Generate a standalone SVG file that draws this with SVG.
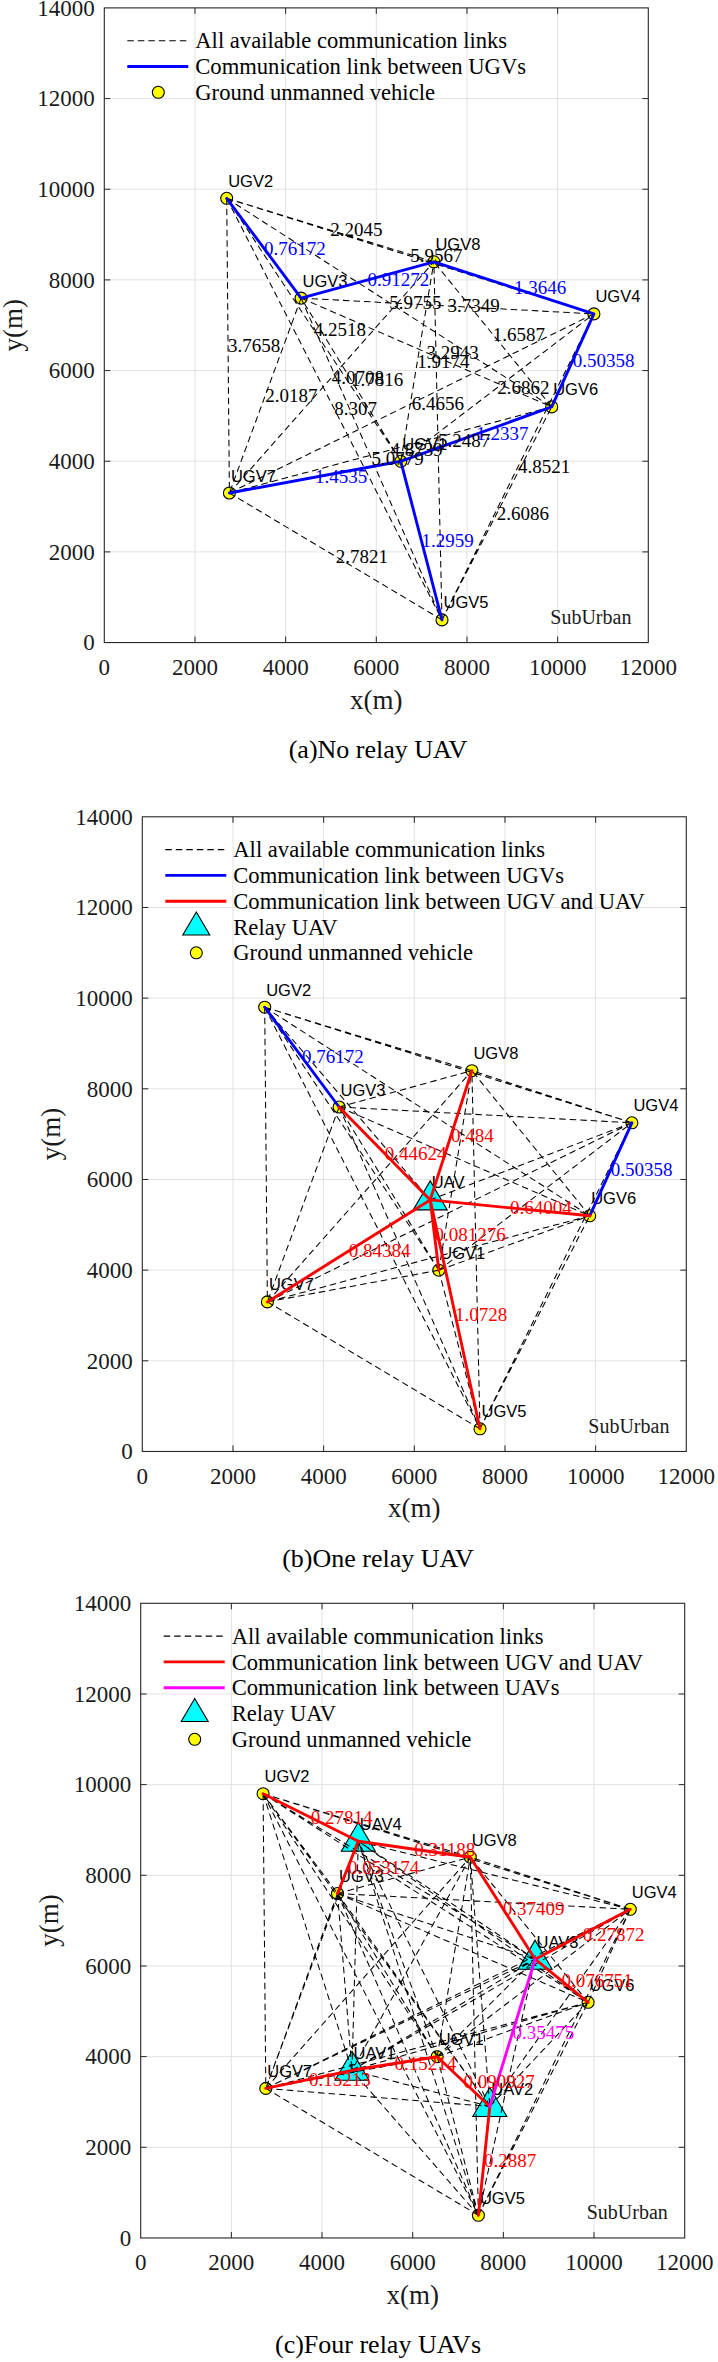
<svg xmlns="http://www.w3.org/2000/svg" xmlns:xlink="http://www.w3.org/1999/xlink" width="718" height="2362" viewBox="0 0 718 2362">
<style>
.bg{fill:#fff}
.frame{fill:none;stroke:#262626;stroke-width:1.1}
.grid{fill:none;stroke:#e2e2e2;stroke-width:1}
.tick{fill:none;stroke:#262626;stroke-width:1}
.dash{fill:none;stroke:#000;stroke-width:1.05;stroke-dasharray:6.5 4}
.blue{fill:none;stroke:#0000ff;stroke-width:2.9;stroke-linejoin:round;stroke-linecap:round}
.red{fill:none;stroke:#ff0000;stroke-width:2.9;stroke-linejoin:round;stroke-linecap:round}
.mag{fill:none;stroke:#ff00ff;stroke-width:2.9;stroke-linecap:round}
.ugv{fill:#ffff00;stroke:#000;stroke-width:1.1}
.uav{fill:#00ffff;stroke:#000;stroke-width:1.1}
text{font-family:"Liberation Serif","Times New Roman",serif;fill:#1a1a1a}
.tky{font-size:23px;text-anchor:end}
.tkx{font-size:23px;text-anchor:middle}
.axl{font-size:27px;text-anchor:middle}
.ttl{font-size:26px;text-anchor:middle;fill:#000}
.leg{font-size:22.6px;fill:#000}
.sub{font-size:20px}
.nl{font-family:"Liberation Sans",Arial,sans-serif;font-size:16.5px;fill:#000}
.num{font-size:19px;fill:#000}
.nb{font-size:19px;fill:#0000ff}
.nr{font-size:19px;fill:#ff0000}
.nm{font-size:19px;fill:#ff00ff}
</style>
<defs>
<path id="tri" d="M0,-19L17,10L-17,10Z"/>
<path id="tril" d="M0,-15L13.5,8L-13.5,8Z"/>
<g id="axes">
<path class="grid" d="M90.67,0V634.67M181.33,0V634.67M272,0V634.67M362.67,0V634.67M453.33,0V634.67M0,90.67H544M0,181.33H544M0,272H544M0,362.67H544M0,453.33H544M0,544H544"/>
<path class="tick" d="M90.67,634.67v-6M181.33,634.67v-6M272,634.67v-6M362.67,634.67v-6M453.33,634.67v-6M90.67,0v6M181.33,0v6M272,0v6M362.67,0v6M453.33,0v6M0,90.67h6M0,181.33h6M0,272h6M0,362.67h6M0,453.33h6M0,544h6M544,90.67h-6M544,181.33h-6M544,272h-6M544,362.67h-6M544,453.33h-6M544,544h-6"/>
<rect class="frame" x="0" y="0" width="544" height="634.67"/>
<text class="tky" x="-9.5" y="7.8">14000</text>
<text class="tky" x="-9.5" y="98.5">12000</text>
<text class="tky" x="-9.5" y="189.1">10000</text>
<text class="tky" x="-9.5" y="279.8">8000</text>
<text class="tky" x="-9.5" y="370.5">6000</text>
<text class="tky" x="-9.5" y="461.1">4000</text>
<text class="tky" x="-9.5" y="551.8">2000</text>
<text class="tky" x="-9.5" y="642.5">0</text>
<text class="tkx" x="0" y="666.9">0</text>
<text class="tkx" x="90.67" y="666.9">2000</text>
<text class="tkx" x="181.33" y="666.9">4000</text>
<text class="tkx" x="272" y="666.9">6000</text>
<text class="tkx" x="362.67" y="666.9">8000</text>
<text class="tkx" x="453.33" y="666.9">10000</text>
<text class="tkx" x="544" y="666.9">12000</text>
<text class="axl" x="272" y="700.7">x(m)</text>
<text class="axl" transform="translate(-82.6,317.3) rotate(-90)">y(m)</text>
<text class="sub" x="446" y="616.2">SubUrban</text>
</g>
</defs>
<rect class="bg" x="0" y="0" width="718" height="2362"/>

<!-- ================= Panel (a) ================= -->
<g id="panel-a">
<use xlink:href="#axes" href="#axes" x="104.3" y="7.9"/>
<g id="a-legend">
<line class="dash" x1="127.3" y1="40.7" x2="188.3" y2="40.7"/>
<text class="leg" x="195.3" y="48.3">All available communication links</text>
<line class="blue" x1="127.3" y1="66.5" x2="188.3" y2="66.5" style="stroke-linecap:butt"/>
<text class="leg" x="195.3" y="74.1">Communication link between UGVs</text>
<circle class="ugv" cx="158.3" cy="92.3" r="6"/>
<text class="leg" x="195.3" y="99.9">Ground unmanned vehicle</text>
</g>
<g id="a-UGV1"><circle class="ugv" cx="400.8" cy="461.3" r="6"/><text class="nl" x="402.3" y="449.8">UGV1</text></g>
<g id="a-UGV2"><circle class="ugv" cx="226.7" cy="198.3" r="6"/><text class="nl" x="228.2" y="186.8">UGV2</text></g>
<g id="a-UGV3"><circle class="ugv" cx="301.1" cy="298.1" r="6"/><text class="nl" x="302.6" y="286.6">UGV3</text></g>
<g id="a-UGV4"><circle class="ugv" cx="593.9" cy="313.9" r="6"/><text class="nl" x="595.4" y="302.4">UGV4</text></g>
<g id="a-UGV5"><circle class="ugv" cx="442" cy="619.9" r="6"/><text class="nl" x="443.5" y="608.4">UGV5</text></g>
<g id="a-UGV6"><circle class="ugv" cx="551.7" cy="406.9" r="6"/><text class="nl" x="553.2" y="395.4">UGV6</text></g>
<g id="a-UGV7"><circle class="ugv" cx="229.4" cy="493" r="6"/><text class="nl" x="230.9" y="481.5">UGV7</text></g>
<g id="a-UGV8"><circle class="ugv" cx="433.9" cy="261.8" r="6"/><text class="nl" x="435.4" y="250.3">UGV8</text></g>
<g id="a-connectors">
<path class="dash" d="M400.8,461.3L226.7,198.3M400.8,461.3L301.1,298.1M400.8,461.3L593.9,313.9M400.8,461.3L442,619.9M400.8,461.3L551.7,406.9M400.8,461.3L229.4,493M400.8,461.3L433.9,261.8M226.7,198.3L301.1,298.1M226.7,198.3L593.9,313.9M226.7,198.3L442,619.9M226.7,198.3L551.7,406.9M226.7,198.3L229.4,493M226.7,198.3L433.9,261.8M301.1,298.1L593.9,313.9M301.1,298.1L442,619.9M301.1,298.1L551.7,406.9M301.1,298.1L229.4,493M301.1,298.1L433.9,261.8M593.9,313.9L442,619.9M593.9,313.9L551.7,406.9M593.9,313.9L229.4,493M593.9,313.9L433.9,261.8M442,619.9L551.7,406.9M442,619.9L229.4,493M442,619.9L433.9,261.8M551.7,406.9L229.4,493M551.7,406.9L433.9,261.8M229.4,493L433.9,261.8"/>
<path class="blue" d="M226.7,198.3L301.1,298.1L433.9,261.8L593.9,313.9L551.7,406.9L400.8,461.3L229.4,493M400.8,461.3L442,619.9"/>
</g>
<g id="a-link-labels">
<text class="num" x="313.75" y="336.1">4.2518</text>
<text class="num" x="350.95" y="386">1.7816</text>
<text class="num" x="497.35" y="393.9">2.6862</text>
<text class="nb" x="421.4" y="546.9">1.2959</text>
<text class="nb" x="476.25" y="440.4">1.2337</text>
<text class="nb" x="315.1" y="483.45">1.4535</text>
<text class="num" x="417.35" y="367.85">1.9174</text>
<text class="nb" x="263.9" y="254.5">0.76172</text>
<text class="num" x="410.3" y="262.4">5.9567</text>
<text class="num" x="334.35" y="415.4">8.307</text>
<text class="num" x="389.2" y="308.9">5.9755</text>
<text class="num" x="228.05" y="351.95">3.7658</text>
<text class="num" x="330.3" y="236.35">2.2045</text>
<text class="num" x="447.5" y="312.3">3.7349</text>
<text class="num" x="371.55" y="465.3">5.0779</text>
<text class="num" x="426.4" y="358.8">3.2943</text>
<text class="num" x="265.25" y="401.85">2.0187</text>
<text class="nb" x="367.5" y="286.25">0.91272</text>
<text class="num" x="517.95" y="473.2">4.8521</text>
<text class="nb" x="572.8" y="366.7">0.50358</text>
<text class="num" x="411.65" y="409.75">6.4656</text>
<text class="nb" x="513.9" y="294.15">1.3646</text>
<text class="num" x="496.85" y="519.7">2.6086</text>
<text class="num" x="335.7" y="562.75">2.7821</text>
<text class="num" x="437.95" y="447.15">5.2487</text>
<text class="num" x="390.55" y="456.25">4.8739</text>
<text class="num" x="492.8" y="340.65">1.6587</text>
<text class="num" x="331.65" y="383.7">4.0708</text>
</g>
<text class="ttl" x="378" y="757.5">(a)No relay UAV</text>
</g>

<!-- ================= Panel (b) ================= -->
<g id="panel-b">
<use xlink:href="#axes" href="#axes" x="142.3" y="816.8"/>
<g id="b-legend">
<line class="dash" x1="165.3" y1="849.6" x2="226.3" y2="849.6"/>
<text class="leg" x="233.3" y="857.2">All available communication links</text>
<line class="blue" x1="165.3" y1="875.4" x2="226.3" y2="875.4" style="stroke-linecap:butt"/>
<text class="leg" x="233.3" y="883">Communication link between UGVs</text>
<line class="red" x1="165.3" y1="901.2" x2="226.3" y2="901.2" style="stroke-linecap:butt"/>
<text class="leg" x="233.3" y="908.8">Communication link between UGV and UAV</text>
<use xlink:href="#tril" href="#tril" class="uav" x="196.3" y="927"/>
<text class="leg" x="233.3" y="934.6">Relay UAV</text>
<circle class="ugv" cx="196.3" cy="952.8" r="6"/>
<text class="leg" x="233.3" y="960.4">Ground unmanned vehicle</text>
</g>
<g id="b-UGV1"><circle class="ugv" cx="438.8" cy="1270.2" r="6"/><text class="nl" x="440.3" y="1258.7">UGV1</text></g>
<g id="b-UGV2"><circle class="ugv" cx="264.7" cy="1007.2" r="6"/><text class="nl" x="266.2" y="995.7">UGV2</text></g>
<g id="b-UGV3"><circle class="ugv" cx="339.1" cy="1107" r="6"/><text class="nl" x="340.6" y="1095.5">UGV3</text></g>
<g id="b-UGV4"><circle class="ugv" cx="631.9" cy="1122.8" r="6"/><text class="nl" x="633.4" y="1111.3">UGV4</text></g>
<g id="b-UGV5"><circle class="ugv" cx="480" cy="1428.8" r="6"/><text class="nl" x="481.5" y="1417.3">UGV5</text></g>
<g id="b-UGV6"><circle class="ugv" cx="589.7" cy="1215.8" r="6"/><text class="nl" x="591.2" y="1204.3">UGV6</text></g>
<g id="b-UGV7"><circle class="ugv" cx="267.4" cy="1301.9" r="6"/><text class="nl" x="268.9" y="1290.4">UGV7</text></g>
<g id="b-UGV8"><circle class="ugv" cx="471.9" cy="1070.7" r="6"/><text class="nl" x="473.4" y="1059.2">UGV8</text></g>
<g id="b-UAV"><use xlink:href="#tri" href="#tri" class="uav" x="430.2" y="1199.9"/><text class="nl" x="431.7" y="1188.4">UAV</text></g>
<g id="b-connectors">
<path class="dash" d="M438.8,1270.2L264.7,1007.2M438.8,1270.2L339.1,1107M438.8,1270.2L631.9,1122.8M438.8,1270.2L480,1428.8M438.8,1270.2L589.7,1215.8M438.8,1270.2L267.4,1301.9M438.8,1270.2L471.9,1070.7M438.8,1270.2L430.2,1199.9M264.7,1007.2L339.1,1107M264.7,1007.2L631.9,1122.8M264.7,1007.2L480,1428.8M264.7,1007.2L589.7,1215.8M264.7,1007.2L267.4,1301.9M264.7,1007.2L471.9,1070.7M264.7,1007.2L430.2,1199.9M339.1,1107L631.9,1122.8M339.1,1107L480,1428.8M339.1,1107L589.7,1215.8M339.1,1107L267.4,1301.9M339.1,1107L471.9,1070.7M339.1,1107L430.2,1199.9M631.9,1122.8L480,1428.8M631.9,1122.8L589.7,1215.8M631.9,1122.8L267.4,1301.9M631.9,1122.8L471.9,1070.7M631.9,1122.8L430.2,1199.9M480,1428.8L589.7,1215.8M480,1428.8L267.4,1301.9M480,1428.8L471.9,1070.7M480,1428.8L430.2,1199.9M589.7,1215.8L267.4,1301.9M589.7,1215.8L471.9,1070.7M589.7,1215.8L430.2,1199.9M267.4,1301.9L471.9,1070.7M267.4,1301.9L430.2,1199.9M471.9,1070.7L430.2,1199.9"/>
<path class="blue" d="M264.7,1007.2L339.1,1107M631.9,1122.8L589.7,1215.8"/>
<path class="red" d="M430.2,1199.9L339.1,1107M430.2,1199.9L471.9,1070.7M430.2,1199.9L589.7,1215.8M430.2,1199.9L438.8,1270.2M430.2,1199.9L267.4,1301.9M430.2,1199.9L480,1428.8"/>
</g>
<g id="b-link-labels">
<text class="nr" x="384.65" y="1159.75">0.44624</text>
<text class="nr" x="451.05" y="1141.6">0.484</text>
<text class="nr" x="509.95" y="1214.15">0.64004</text>
<text class="nr" x="434.5" y="1241.35">0.081276</text>
<text class="nr" x="348.8" y="1257.2">0.84384</text>
<text class="nr" x="455.1" y="1320.65">1.0728</text>
<text class="nb" x="301.9" y="1063.4">0.76172</text>
<text class="nb" x="610.8" y="1175.6">0.50358</text>
</g>
<text class="ttl" x="378" y="1566.5">(b)One relay UAV</text>
</g>

<!-- ================= Panel (c) ================= -->
<g id="panel-c">
<use xlink:href="#axes" href="#axes" x="140.7" y="1603.3"/>
<g id="c-legend">
<line class="dash" x1="163.7" y1="1636.1" x2="224.7" y2="1636.1"/>
<text class="leg" x="231.7" y="1643.7">All available communication links</text>
<line class="red" x1="163.7" y1="1661.9" x2="224.7" y2="1661.9" style="stroke-linecap:butt"/>
<text class="leg" x="231.7" y="1669.5">Communication link between UGV and UAV</text>
<line class="mag" x1="163.7" y1="1687.7" x2="224.7" y2="1687.7" style="stroke-linecap:butt"/>
<text class="leg" x="231.7" y="1695.3">Communication link between UAVs</text>
<use xlink:href="#tril" href="#tril" class="uav" x="194.7" y="1713.5"/>
<text class="leg" x="231.7" y="1721.1">Relay UAV</text>
<circle class="ugv" cx="194.7" cy="1739.3" r="6"/>
<text class="leg" x="231.7" y="1746.9">Ground unmanned vehicle</text>
</g>
<g id="c-UGV1"><circle class="ugv" cx="437.2" cy="2056.7" r="6"/><text class="nl" x="438.7" y="2045.2">UGV1</text></g>
<g id="c-UGV2"><circle class="ugv" cx="263.1" cy="1793.7" r="6"/><text class="nl" x="264.6" y="1782.2">UGV2</text></g>
<g id="c-UGV3"><circle class="ugv" cx="337.5" cy="1893.5" r="6"/><text class="nl" x="339" y="1882">UGV3</text></g>
<g id="c-UGV4"><circle class="ugv" cx="630.3" cy="1909.3" r="6"/><text class="nl" x="631.8" y="1897.8">UGV4</text></g>
<g id="c-UGV5"><circle class="ugv" cx="478.4" cy="2215.3" r="6"/><text class="nl" x="479.9" y="2203.8">UGV5</text></g>
<g id="c-UGV6"><circle class="ugv" cx="588.1" cy="2002.3" r="6"/><text class="nl" x="589.6" y="1990.8">UGV6</text></g>
<g id="c-UGV7"><circle class="ugv" cx="265.8" cy="2088.4" r="6"/><text class="nl" x="267.3" y="2076.9">UGV7</text></g>
<g id="c-UGV8"><circle class="ugv" cx="470.3" cy="1857.2" r="6"/><text class="nl" x="471.8" y="1845.7">UGV8</text></g>
<g id="c-UAV1"><use xlink:href="#tri" href="#tri" class="uav" x="352" y="2070.3"/><text class="nl" x="353.5" y="2058.8">UAV1</text></g>
<g id="c-UAV2"><use xlink:href="#tri" href="#tri" class="uav" x="489.8" y="2106.5"/><text class="nl" x="491.3" y="2095">UAV2</text></g>
<g id="c-UAV3"><use xlink:href="#tri" href="#tri" class="uav" x="535.1" y="1959.2"/><text class="nl" x="536.6" y="1947.7">UAV3</text></g>
<g id="c-UAV4"><use xlink:href="#tri" href="#tri" class="uav" x="358.3" y="1841.3"/><text class="nl" x="359.8" y="1829.8">UAV4</text></g>
<g id="c-connectors">
<path class="dash" d="M437.2,2056.7L263.1,1793.7M437.2,2056.7L337.5,1893.5M437.2,2056.7L630.3,1909.3M437.2,2056.7L478.4,2215.3M437.2,2056.7L588.1,2002.3M437.2,2056.7L265.8,2088.4M437.2,2056.7L470.3,1857.2M437.2,2056.7L352,2070.3M437.2,2056.7L489.8,2106.5M437.2,2056.7L535.1,1959.2M437.2,2056.7L358.3,1841.3M263.1,1793.7L337.5,1893.5M263.1,1793.7L630.3,1909.3M263.1,1793.7L478.4,2215.3M263.1,1793.7L588.1,2002.3M263.1,1793.7L265.8,2088.4M263.1,1793.7L470.3,1857.2M263.1,1793.7L352,2070.3M263.1,1793.7L489.8,2106.5M263.1,1793.7L535.1,1959.2M263.1,1793.7L358.3,1841.3M337.5,1893.5L630.3,1909.3M337.5,1893.5L478.4,2215.3M337.5,1893.5L588.1,2002.3M337.5,1893.5L265.8,2088.4M337.5,1893.5L470.3,1857.2M337.5,1893.5L352,2070.3M337.5,1893.5L489.8,2106.5M337.5,1893.5L535.1,1959.2M337.5,1893.5L358.3,1841.3M630.3,1909.3L478.4,2215.3M630.3,1909.3L588.1,2002.3M630.3,1909.3L265.8,2088.4M630.3,1909.3L470.3,1857.2M630.3,1909.3L352,2070.3M630.3,1909.3L489.8,2106.5M630.3,1909.3L535.1,1959.2M630.3,1909.3L358.3,1841.3M478.4,2215.3L588.1,2002.3M478.4,2215.3L265.8,2088.4M478.4,2215.3L470.3,1857.2M478.4,2215.3L352,2070.3M478.4,2215.3L489.8,2106.5M478.4,2215.3L535.1,1959.2M478.4,2215.3L358.3,1841.3M588.1,2002.3L265.8,2088.4M588.1,2002.3L470.3,1857.2M588.1,2002.3L352,2070.3M588.1,2002.3L489.8,2106.5M588.1,2002.3L535.1,1959.2M588.1,2002.3L358.3,1841.3M265.8,2088.4L470.3,1857.2M265.8,2088.4L352,2070.3M265.8,2088.4L489.8,2106.5M265.8,2088.4L535.1,1959.2M265.8,2088.4L358.3,1841.3M470.3,1857.2L352,2070.3M470.3,1857.2L489.8,2106.5M470.3,1857.2L535.1,1959.2M470.3,1857.2L358.3,1841.3M352,2070.3L489.8,2106.5M352,2070.3L535.1,1959.2M352,2070.3L358.3,1841.3M489.8,2106.5L535.1,1959.2M489.8,2106.5L358.3,1841.3M535.1,1959.2L358.3,1841.3"/>
<path class="red" d="M263.1,1793.7L358.3,1841.3L470.3,1857.2L535.1,1959.2L630.3,1909.3M358.3,1841.3L337.5,1893.5M535.1,1959.2L588.1,2002.3M265.8,2088.4L352,2070.3L437.2,2056.7L489.8,2106.5L478.4,2215.3"/>
<path class="mag" d="M535.1,1959.2L489.8,2106.5"/>
</g>
<g id="c-link-labels">
<text class="nr" x="310.7" y="1823.8">0.27814</text>
<text class="nr" x="414.3" y="1855.55">0.31188</text>
<text class="nr" x="347.9" y="1873.7">0.053174</text>
<text class="nr" x="502.7" y="1914.5">0.37409</text>
<text class="nr" x="582.7" y="1940.55">0.27872</text>
<text class="nr" x="561.6" y="1987.05">0.076751</text>
<text class="nr" x="308.9" y="2085.65">0.15213</text>
<text class="nr" x="394.6" y="2069.8">0.15214</text>
<text class="nr" x="463.5" y="2087.9">0.090927</text>
<text class="nr" x="484.1" y="2167.2">0.2887</text>
<text class="nm" x="512.45" y="2039.15">0.35475</text>
</g>
<text class="ttl" x="378" y="2353">(c)Four relay UAVs</text>
</g>
</svg>
